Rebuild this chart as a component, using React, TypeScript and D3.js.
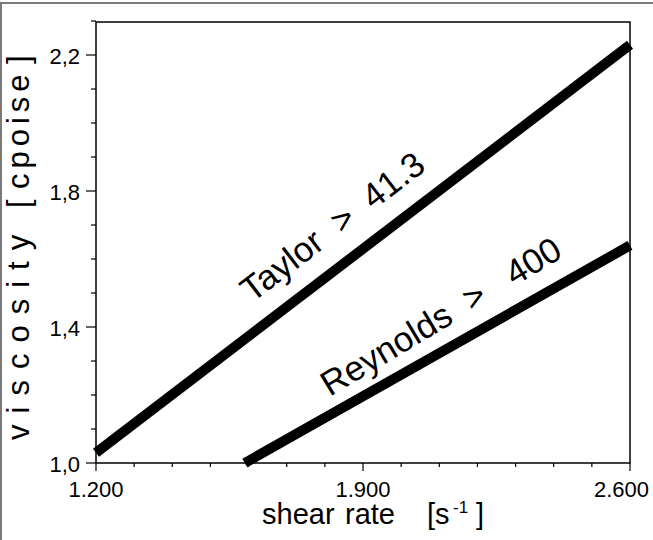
import React, { useEffect } from 'react';
import * as d3 from 'd3';

// shear rate [1/s] and viscosity [cpoise] for each regime line
const taylorShear = [1200, 2600];
const taylorVisc = [1.03, 2.23];
const reynoldsShear = [1590, 2600];
const reynoldsVisc = [1.0, 1.64];

const xMajorTicks = [1200, 1900, 2600];
const xMinorTicks = d3.range(1200, 2601, 100);
const yMajorTicks = [1.0, 1.4, 1.8, 2.2];
const yMinorTicks = d3.range(10, 24).map(v => v / 10);

// label anchors (start of baseline) in data units
const taylorLabel = { text: 'Taylor  >  41.3', shear: 1609, visc: 1.47 };
const reynoldsLabel = { text: 'Reynolds  >   400', shear: 1813, visc: 1.194 };

const W = 653;
const H = 540;
const FONT = '"Liberation Sans", Arial, Helvetica, sans-serif';

const locale = d3.formatLocale({ decimal: ',', thousands: '.', grouping: [3], currency: ['', ''] });
const fmtX = locale.format(',.0f');
const fmtY = locale.format('.1f');

const App: React.FC = () => {
  useEffect(() => {
    document.body.style.margin = '0';
    document.body.style.overflow = 'hidden';
  }, []);

  const x = d3.scaleLinear().domain([1200, 2600]).range([96, 630]);
  const y = d3.scaleLinear().domain([1.0, 2.3]).range([463, 21]);
  const line = d3.line<[number, number]>().x(d => x(d[0])).y(d => y(d[1]));

  const angleOf = (sx: number[], vy: number[]) =>
    (Math.atan2(y(vy[1]) - y(vy[0]), x(sx[1]) - x(sx[0])) * 180) / Math.PI;

  const taylorPts = taylorShear.map((s, i) => [s, taylorVisc[i]] as [number, number]);
  const reynoldsPts = reynoldsShear.map((s, i) => [s, reynoldsVisc[i]] as [number, number]);

  const [x0, x1] = x.range();
  const [y0, y1] = y.range();

  return (
    <svg width={W} height={H} style={{ position: 'absolute', left: 0, top: 0, background: '#fff' }} fontFamily={FONT}>
      {/* outer frame (only top and left survive the crop) */}
      <line x1={0} x2={W} y1={3} y2={3} stroke="#7a7a7a" strokeWidth={2} />
      <line x1={1} x2={1} y1={3} y2={H} stroke="#7a7a7a" strokeWidth={2} />

      {/* plot frame */}
      <rect x={x0} y={y1 + 1} width={x1 - x0} height={y0 - y1 - 1} fill="none" stroke="#000" strokeWidth={1.5} />

      {/* x ticks */}
      {xMinorTicks.map(t => (
        <line key={'xm' + t} x1={x(t)} x2={x(t)} y1={y0} y2={y0 + (xMajorTicks.includes(t) ? 8 : 4)} stroke="#000" strokeWidth={1.2} />
      ))}
      {xMajorTicks.map((t, i) => {
        const last = i === xMajorTicks.length - 1;
        return (
          <text key={'xl' + t} x={last ? W - 4 : x(t)} y={497} fontSize={22} textAnchor={last ? 'end' : 'middle'}>
            {fmtX(t)}
          </text>
        );
      })}

      {/* y ticks */}
      {yMinorTicks.map(t => {
        const major = yMajorTicks.some(m => Math.abs(m - t) < 1e-6);
        return <line key={'ym' + t} x1={x0 - (major ? 10 : 5)} x2={x0} y1={y(t)} y2={y(t)} stroke="#000" strokeWidth={1.2} />;
      })}
      {yMajorTicks.map(t => (
        <text key={'yl' + t} x={80} y={y(t) + 9} fontSize={22} textAnchor="end">
          {fmtY(t)}
        </text>
      ))}

      {/* lines */}
      <path d={line(taylorPts) || ''} stroke="#000" strokeWidth={10} fill="none" />
      <path d={line(reynoldsPts) || ''} stroke="#000" strokeWidth={10} fill="none" />

      {/* line labels */}
      <text
        transform={`translate(${x(taylorLabel.shear)},${y(taylorLabel.visc)}) rotate(${angleOf(taylorShear, taylorVisc)})`}
        fontSize={35}
        style={{ whiteSpace: 'pre' }}
      >
        {taylorLabel.text}
      </text>
      <text
        transform={`translate(${x(reynoldsLabel.shear)},${y(reynoldsLabel.visc)}) rotate(${angleOf(reynoldsShear, reynoldsVisc) - 1.5})`}
        fontSize={35}
        style={{ whiteSpace: 'pre' }}
      >
        {reynoldsLabel.text}
      </text>

      {/* x axis title */}
      <text y={524} fontSize={29}>
        <tspan x={262}>shear</tspan>
        <tspan x={345}>rate</tspan>
        <tspan x={427}>[s</tspan>
        <tspan x={453} dy={-11} fontSize={17}>-1</tspan>
        <tspan x={476} dy={11}>]</tspan>
      </text>

      {/* y axis title */}
      <g transform="translate(29,0)">
        <text transform="translate(0,440) rotate(-90)" fontSize={31} style={{ letterSpacing: '11px' }}>viscosity</text>
        <text transform="translate(0,208) rotate(-90)" fontSize={31}>[</text>
        <text transform="translate(0,189) rotate(-90)" fontSize={31} style={{ letterSpacing: '5px' }}>cpoise</text>
        <text transform="translate(0,64) rotate(-90)" fontSize={31}>]</text>
      </g>
    </svg>
  );
};

export default App;
